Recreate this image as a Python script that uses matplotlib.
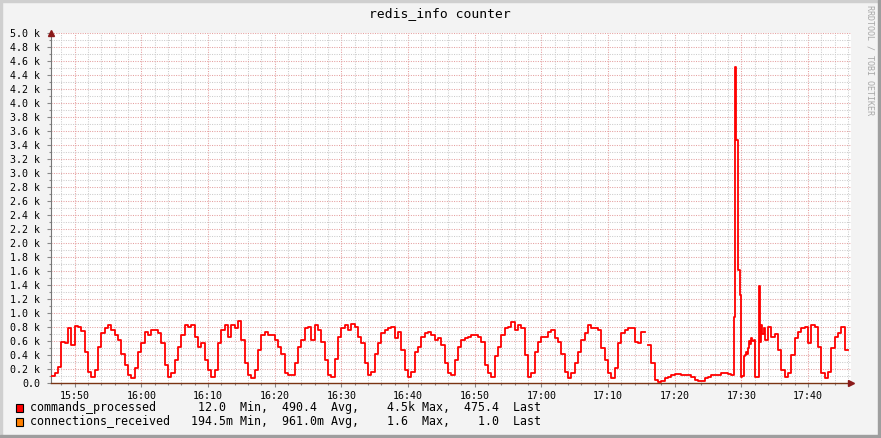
import matplotlib
matplotlib.use('Agg')
import matplotlib.pyplot as plt
import numpy as np
from matplotlib.patches import Rectangle

plt.rcParams['font.family'] = ['DejaVu Sans Mono']

# commands_processed in thousands
# 30 s samples, 15:46:30 .. 17:28:00
cmd_a = [
    0.10, 0.15, 0.23, 0.59, 0.57, 0.78, 0.55, 0.81, 0.80, 0.74,
    0.45, 0.16, 0.09, 0.19, 0.52, 0.71, 0.78, 0.83, 0.76, 0.69,
    0.61, 0.42, 0.26, 0.11, 0.07, 0.21, 0.45, 0.57, 0.73, 0.69,
    0.76, 0.76, 0.71, 0.57, 0.26, 0.09, 0.14, 0.33, 0.52, 0.69,
    0.83, 0.80, 0.83, 0.66, 0.52, 0.57, 0.33, 0.19, 0.09, 0.19,
    0.57, 0.76, 0.83, 0.66, 0.83, 0.78, 0.88, 0.61, 0.28, 0.11,
    0.07, 0.19, 0.47, 0.69, 0.73, 0.69, 0.69, 0.61, 0.52, 0.42,
    0.14, 0.11, 0.11, 0.28, 0.52, 0.61, 0.78, 0.80, 0.61, 0.83,
    0.76, 0.59, 0.33, 0.11, 0.09, 0.35, 0.66, 0.78, 0.83, 0.76,
    0.85, 0.80, 0.66, 0.57, 0.28, 0.11, 0.16, 0.42, 0.57, 0.71,
    0.76, 0.78, 0.80, 0.64, 0.73, 0.47, 0.19, 0.09, 0.16, 0.45,
    0.52, 0.66, 0.71, 0.73, 0.69, 0.61, 0.64, 0.54, 0.28, 0.14,
    0.11, 0.33, 0.52, 0.61, 0.64, 0.66, 0.69, 0.69, 0.66, 0.59,
    0.26, 0.14, 0.09, 0.38, 0.52, 0.69, 0.78, 0.80, 0.87, 0.76,
    0.83, 0.78, 0.40, 0.09, 0.14, 0.45, 0.59, 0.66, 0.66, 0.73,
    0.76, 0.64, 0.59, 0.42, 0.16, 0.07, 0.14, 0.28, 0.45, 0.61,
    0.71, 0.83, 0.78, 0.78, 0.76, 0.50, 0.33, 0.14, 0.07, 0.21,
    0.57, 0.71, 0.76, 0.78, 0.78, 0.59, 0.57, 0.73, np.nan, 0.55,
    0.28, 0.04, 0.02, 0.03, 0.07, 0.09, 0.11, 0.13, 0.13, 0.12,
    0.12, 0.12, 0.09, 0.04, 0.03, 0.03, 0.07, 0.09, 0.11, 0.11,
    0.12, 0.14, 0.14, 0.13,
]
# 10 s samples around the spike, 17:28:30 .. 17:33:20
cmd_b = [
    0.12, 0.12, 0.95, 4.52, 3.47, 3.47, 1.61, 1.61, 1.26, 0.08,
    0.10, 0.38, 0.40, 0.45, 0.42, 0.50, 0.60, 0.56, 0.64, 0.60,
    0.62, 0.09, 0.09, 0.09, 0.09, 1.38, 0.59, 0.83, 0.70, 0.78,
]
# 30 s samples, 17:33:30 .. 17:45:30
cmd_c = [
    0.62, 0.80, 0.66, 0.70, 0.47, 0.19, 0.09, 0.14, 0.40, 0.64,
    0.73, 0.78, 0.80, 0.57, 0.83, 0.80, 0.52, 0.14, 0.07, 0.16,
    0.50, 0.66, 0.72, 0.80, 0.475,
]

tick_minutes = [50, 60, 70, 80, 90, 100, 110, 120, 130, 140, 150, 160]
tick_labels = ['15:50', '16:00', '16:10', '16:20', '16:30', '16:40',
               '16:50', '17:00', '17:10', '17:20', '17:30', '17:40']

legend_names = ['commands_processed', 'connections_received']
legend_colors = ['#ff0000', '#ff8000']
stat_min = [('12.0', ' '), ('194.5', 'm')]
stat_avg = [('490.4', ' '), ('961.0', 'm')]
stat_max = [('4.5', 'k'), ('1.6', ' ')]
stat_last = [('475.4', ' '), ('1.0', ' ')]

# minutes since 15:00
t_a = 46.5 + 0.5 * np.arange(len(cmd_a))
t_b = t_a[-1] + 0.5 + np.arange(len(cmd_b)) / 6.0
t_c = t_b[-1] + 1 / 6.0 + 0.5 * np.arange(len(cmd_c))
t = np.concatenate([t_a, t_b, t_c, [t_c[-1] + 0.5]])
v = np.concatenate([cmd_a, cmd_b, cmd_c, [cmd_c[-1]]])

W, H = 881, 438
fig = plt.figure(figsize=(W / 100, H / 100), dpi=100)
fig.patch.set_facecolor('#f3f3f3')

# background layer in pixel coords
bg = fig.add_axes([0, 0, 1, 1], zorder=0)
bg.set_xlim(0, W)
bg.set_ylim(H, 0)
bg.axis('off')
bg.add_patch(Rectangle((0, 0), W, 2, color='#cfcfcf'))
bg.add_patch(Rectangle((0, 0), 2, H, color='#cfcfcf'))
bg.add_patch(Rectangle((W - 3, 0), 3, H, color='#9e9e9e'))
bg.add_patch(Rectangle((0, H - 3), W, 3, color='#9e9e9e'))

bg.text(440, 14, 'redis_info counter', ha='center', va='center', fontsize=9.4)
bg.text(870, 5, 'RRDTOOL / TOBI OETIKER', rotation=270, ha='center', va='top',
        fontsize=6.0, color='#a8a8a8')

for i, name in enumerate(legend_names):
    y = 408 + 14 * i
    bg.add_patch(Rectangle((16, y - 4.5), 7, 8, facecolor=legend_colors[i],
                           edgecolor='black', lw=0.8))
    line = (f"{name:<22}{stat_min[i][0]:>6}{stat_min[i][1]} Min, "
            f"{stat_avg[i][0]:>6}{stat_avg[i][1]} Avg, "
            f"{stat_max[i][0]:>6}{stat_max[i][1]} Max, "
            f"{stat_last[i][0]:>6}{stat_last[i][1]} Last")
    bg.text(30, y, line, ha='left', va='center', fontsize=8.37)

ax = fig.add_axes([51 / W, 55 / H, 800 / W, 350 / H], zorder=1)
ax.set_facecolor('white')
ax.set_xlim(46.45, 166.45)
ax.set_ylim(0, 5.0)

# grid
for m in np.arange(48, 167, 2):
    major = m % 10 == 0
    ax.axvline(m, color='#e5a0a0' if major else '#cccccc', lw=0.75,
               ls=(0, (1, 1.3)), zorder=1)
for yv in np.arange(0.1, 5.01, 0.1):
    major = round(yv * 10) % 2 == 0
    ax.axhline(yv, color='#e5a0a0' if major else '#cccccc', lw=0.75,
               ls=(0, (1, 1.3)), zorder=1)

ax.plot(t, v, drawstyle='steps-post', color='#ff0000', lw=1.3, zorder=3)

ax.set_xticks(tick_minutes)
ax.set_xticklabels(tick_labels)
ax.set_xticks(np.arange(48, 167, 2), minor=True)
yt = np.arange(0, 5.01, 0.2)
ax.set_yticks(yt)
ax.set_yticklabels(['0.0'] + [f'{y:.1f} k' for y in yt[1:]])
ax.set_yticks(np.arange(0, 5.01, 0.1), minor=True)
ax.tick_params(axis='both', which='major', labelsize=7.2, length=3,
               color='#888888', width=0.8)
ax.tick_params(axis='both', which='minor', length=1.5, color='#888888', width=0.8)
ax.tick_params(axis='y', pad=5)
ax.tick_params(axis='x', pad=3)

for s in ['top', 'right']:
    ax.spines[s].set_visible(False)
ax.spines['left'].set_color('#777777')
ax.spines['bottom'].set_color('#7a3514')
ax.spines['left'].set_linewidth(0.8)
ax.spines['bottom'].set_linewidth(1.0)

# axis arrows
ax.plot([0], [1.0], marker='^', ms=5, color='#8b1a1a', transform=ax.transAxes,
        clip_on=False, zorder=5)
ax.plot([1.0], [0], marker='>', ms=5, color='#8b1a1a', transform=ax.transAxes,
        clip_on=False, zorder=5)

fig.savefig('out.png', dpi=100, facecolor=fig.get_facecolor())
